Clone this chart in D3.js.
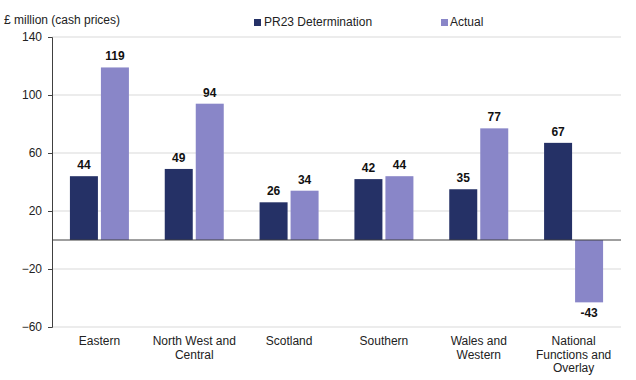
<!DOCTYPE html>
<html><head><meta charset="utf-8">
<script src="https://cdn.jsdelivr.net/npm/d3@7"></script>
<style>body{margin:0;background:#fff}text{font-family:"Liberation Sans",Arial,sans-serif}</style>
</head><body><svg id="c" width="636" height="380"></svg>
<script>
const categories = [["Eastern"],["North West and","Central"],["Scotland"],["Southern"],["Wales and","Western"],["National","Functions and","Overlay"]];
const seriesNames = ["PR23 Determination","Actual"];
const determination = [44,49,26,42,35,67];
const actual = [119,94,34,44,77,-43];
const yTicks = [140,100,60,20,-20,-60];
const colors = ["#253166","#8986C8"];

const svg = d3.select("#c");
const m = {l:52, r:621, t:37, b:327};
const x = d3.scaleBand().domain(d3.range(categories.length)).range([m.l, m.r]);
const y = d3.scaleLinear().domain([-60,140]).range([m.b, m.t]);

// gridlines
svg.append("g").selectAll("line").data(yTicks).join("line")
  .attr("x1", m.l).attr("x2", m.r).attr("y1", d=>y(d)).attr("y2", d=>y(d))
  .attr("stroke","#d9d9d9").attr("stroke-width",1);

// y axis
const ya = svg.append("g").attr("transform",`translate(${m.l},0)`)
  .call(d3.axisLeft(y).tickValues(yTicks).tickSize(4).tickPadding(6).tickFormat(d3.format("d")));
ya.select(".domain").attr("stroke","#404040");
ya.selectAll(".tick line").attr("stroke","#404040");
ya.selectAll("text").attr("font-size",12).attr("fill","#222").attr("font-family","Liberation Sans, Arial, sans-serif");

const bw = 28, gap = 3;
const series = [determination, actual];
series.forEach((vals, si) => {
  const g = svg.append("g");
  g.selectAll("rect").data(vals).join("rect")
    .attr("x", (d,i)=> x(i) + x.bandwidth()/2 + (si===0 ? -bw - gap/2 : gap/2))
    .attr("width", bw)
    .attr("y", d=> y(Math.max(0,d)))
    .attr("height", d=> Math.abs(y(d)-y(0)))
    .attr("fill", colors[si]);
  g.selectAll("text").data(vals).join("text")
    .attr("x", (d,i)=> x(i) + x.bandwidth()/2 + (si===0 ? -bw/2 - gap/2 : bw/2 + gap/2))
    .attr("y", d=> d>=0 ? y(d)-7 : y(d)+15)
    .attr("text-anchor","middle").attr("font-size",12).attr("font-weight","bold").attr("fill","#111")
    .text(d=>d);
});

// zero line
svg.append("line").attr("x1",m.l).attr("x2",m.r).attr("y1",y(0)).attr("y2",y(0))
  .attr("stroke","#404040").attr("stroke-width",1);

// category labels
categories.forEach((lines,i)=>{
  const t = svg.append("text").attr("text-anchor","middle").attr("font-size",12).attr("fill","#222");
  lines.forEach((ln,j)=>{
    t.append("tspan").attr("x", x(i)+x.bandwidth()/2).attr("y", 345 + j*13.5).text(ln);
  });
});

// axis title
svg.append("text").attr("x",4).attr("y",24).attr("font-size",12).attr("fill","#222").text("£ million (cash prices)");

// legend
const leg = [[254,264],[441,450]];
seriesNames.forEach((n,i)=>{
  svg.append("rect").attr("x",leg[i][0]).attr("y",19).attr("width",7).attr("height",7).attr("fill",colors[i]);
  svg.append("text").attr("x",leg[i][1]).attr("y",26).attr("font-size",12).attr("fill","#222").text(n);
});
</script></body></html>
